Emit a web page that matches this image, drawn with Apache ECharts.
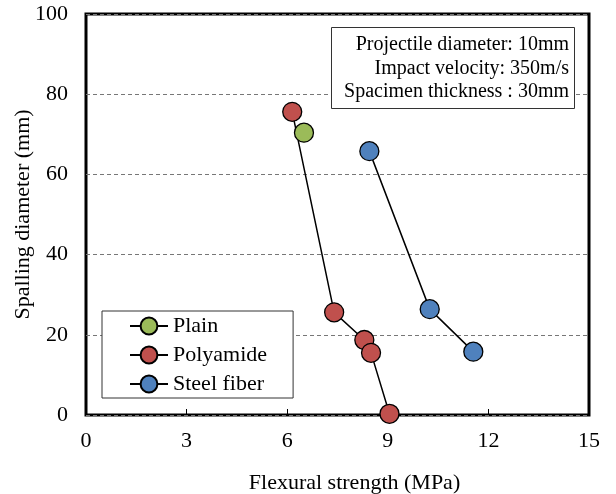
<!DOCTYPE html>
<html>
<head>
<meta charset="utf-8">
<script src="https://cdn.jsdelivr.net/npm/echarts@6/dist/echarts.min.js"></script>
<style>
  html, body { margin: 0; padding: 0; background: #fff; }
  #chart { width: 616px; height: 494px; }
</style>
</head>
<body>
<div id="chart"></div>
<script>
// values
const xTicks = [0, 3, 6, 9, 12, 15]
const yTicks = [0, 20, 40, 60, 80, 100]

const plainX = [6.5]
const plainY = [70.4]

const polyX = [6.15, 7.4, 8.3, 8.5, 9.05]
const polyY = [75.6, 25.6, 18.7, 15.5, 0.3]

const steelX = [8.45, 10.25, 11.55]
const steelY = [65.8, 26.4, 15.8]

const noteLines = [
  'Projectile diameter: 10mm',
  'Impact velocity: 350m/s',
  'Spacimen thickness : 30mm'
]

const FONT = 'Liberation Serif'

function pairs(xs, ys) {
  return xs.map((x, i) => [x, ys[i]])
}

function makeSeries(name, xs, ys, color) {
  return {
    name: name,
    type: 'line',
    data: pairs(xs, ys),
    symbol: 'circle',
    symbolSize: 19,
    itemStyle: { color: color, borderColor: '#000', borderWidth: 1.3 },
    lineStyle: { color: '#000', width: 1.5 },
    emphasis: { disabled: true },
    z: 3
  }
}

const chart = echarts.init(document.getElementById('chart'))
chart.setOption({
  animation: false,
  textStyle: { fontFamily: FONT },
  grid: {
    left: 86, top: 14, right: 27, bottom: 79,
    outerBoundsMode: 'none',
    containLabel: false,
    show: true, borderColor: '#000', borderWidth: 3
  },
  legend: {
    orient: 'vertical',
    left: 102, top: 311,
    padding: [4, 26, 3, 27],
    borderColor: '#333', borderWidth: 1,
    backgroundColor: '#fff',
    itemWidth: 38, itemHeight: 21, itemGap: 7,
    textStyle: { fontFamily: FONT, fontSize: 22, lineHeight: 22, color: '#000' },
    data: ['Plain', 'Polyamide', 'Steel fiber']
  },
  xAxis: {
    type: 'value',
    min: 0, max: 15, interval: 3,
    name: 'Flexural strength (MPa)',
    nameLocation: 'middle', nameGap: 57,
    nameMoveOverlap: false,
    nameTextStyle: { fontFamily: FONT, fontSize: 22, color: '#000', padding: [0, 0, 0, 34] },
    axisLine: { show: false },
    axisTick: { show: true, inside: true, length: 6, lineStyle: { color: '#000', width: 1 } },
    axisLabel: {
      fontFamily: FONT, fontSize: 22, color: '#000', margin: 15,
      formatter: v => xTicks.includes(v) ? String(v) : ''
    },
    splitLine: { show: false }
  },
  yAxis: {
    type: 'value',
    min: 0, max: 100, interval: 20,
    name: 'Spalling diameter (mm)',
    nameLocation: 'middle', nameGap: 52,
    nameMoveOverlap: false,
    nameTextStyle: { fontFamily: FONT, fontSize: 22, color: '#000' },
    axisLine: { show: false },
    axisTick: { show: false },
    axisLabel: {
      fontFamily: FONT, fontSize: 22, color: '#000', margin: 18,
      formatter: v => yTicks.includes(v) ? String(v) : ''
    },
    splitLine: { show: true, lineStyle: { color: '#777', type: [4, 3], width: 1 } }
  },
  graphic: [
    {
      type: 'rect',
      shape: { x: 331.5, y: 27.5, width: 243, height: 81 },
      style: { fill: '#fff', stroke: '#333', lineWidth: 1 },
      z: 10
    },
    {
      type: 'text',
      x: 569, y: 33,
      style: {
        text: noteLines.join('\n'),
        fill: '#000',
        font: '20px "Liberation Serif"',
        align: 'right',
        lineHeight: 23.5
      },
      z: 11
    }
  ],
  series: [
    makeSeries('Plain', plainX, plainY, '#9BBB59'),
    makeSeries('Polyamide', polyX, polyY, '#C0504D'),
    makeSeries('Steel fiber', steelX, steelY, '#4F81BD')
  ]
})
</script>
</body>
</html>
